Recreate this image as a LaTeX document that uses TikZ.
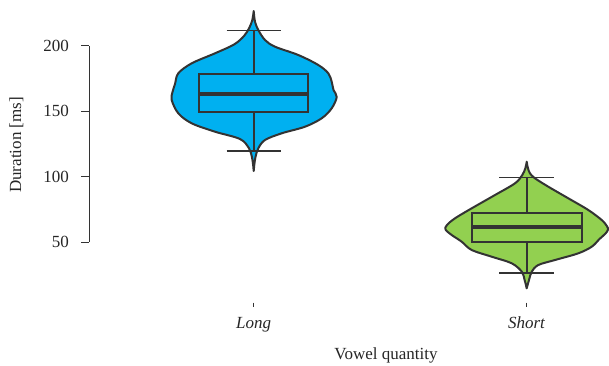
\documentclass[tikz,border=0pt]{standalone}
\usepackage{fontspec}
\setmainfont{Liberation Serif}
\definecolor{longFill}{HTML}{00B0F0}
\definecolor{shortFill}{HTML}{92D050}
\definecolor{plotLine}{HTML}{333333}

\providecommand*{\axisX}{}
\providecommand*{\yBase}{}
\providecommand*{\yScale}{}
\renewcommand*{\axisX}{89}
\renewcommand*{\yBase}{242}
\renewcommand*{\yScale}{1.3067}

\tikzset{
  violinLine/.style={draw=plotLine,line width=2pt,line join=round},
  boxLine/.style={draw=plotLine,line width=1.9pt},
  medianLine/.style={draw=plotLine,line width=3.4pt},
  whiskerLine/.style={draw=plotLine,line width=2.3pt},
  capLine/.style={draw=plotLine,line width=1.6pt},
  axisLine/.style={draw=plotLine,line width=1pt},
  plotText/.style={inner sep=0pt,font=\fontsize{17}{20}\selectfont,text=black!85}
}

\begin{document}
\begin{tikzpicture}[x=1pt,y=-1pt]
  \useasboundingbox (0,0) rectangle (609,365);
  % y axis
  \draw [axisLine] (\axisX,46) -- (\axisX,\yBase);
  \foreach \v in {50,100,...,200} {
    \pgfmathsetmacro{\py}{\yBase-(\v-50)*\yScale}
    \draw [axisLine] (81,\py) -- (\axisX,\py);
    \node [plotText,anchor=east] (tick\v) at (69,\py) {\v};
  }
  \node [plotText,rotate=90,anchor=base] (ylabel) at (21,145) {Duration [ms]};
  % x axis
  \foreach \cx/\name in {253.7/Long,526.7/Short} {
    \draw [axisLine] (\cx,302.5) -- (\cx,307);
    \node [plotText,anchor=base] (label\name) at (\cx,328) {\textit{\name}};
  }
  \node [plotText,anchor=base] (xlabel) at (386,359) {Vowel quantity};

  % long vowels
  \draw [violinLine,fill=longFill]
    plot [smooth,tension=0.55] coordinates {(253.7,11) (255,21.7) (258.3,30) (265,40)
      (275,46.7) (298.3,55) (318.3,65) (328.3,73.3) (331.7,81.7) (333.5,90)
      (336.7,97) (331.7,108.3) (321.7,118.3) (305,126.7) (281.7,133.3) (265,140)
      (258.3,148.3) (255.5,157) (254.4,164) (253.7,171)}
    -- plot [smooth,tension=0.55] coordinates {(253.7,171) (253,164) (251.9,157)
      (249,148.3) (240,139) (215,131.7) (191.7,123.3) (178.3,113.3) (171.7,100)
      (172.5,92) (175,84) (178.3,73.3) (191.7,63.3) (215,53.3) (234,44.5)
      (244,36) (249.2,28) (252.3,20) (253.7,11)} -- cycle;
  \draw [whiskerLine] (253.7,30.3) -- (253.7,151);
  \draw [boxLine,fill=longFill] (199,74) rectangle (308.3,112);
  \draw [medianLine] (199,94) -- (308.3,94);
  \draw [capLine] (226.7,30.3) -- (280.7,30.3);
  \draw [capLine] (226.7,151) -- (280.7,151);

  % short vowels
  \draw [violinLine,fill=shortFill]
    plot [smooth,tension=0.55] coordinates {(526.7,161.7) (527.9,168) (530,173.3)
      (535,178.3) (548.3,186.7) (568.3,198.3) (588.3,210) (601.7,220) (606.8,226)
      (608,229.5) (605.5,233.5) (599.5,239) (591.7,246.7) (578.3,253.3) (555,260)
      (538.3,265) (531.7,271.7) (529,280) (526.7,288.3)}
    -- plot [smooth,tension=0.55] coordinates {(526.7,288.3) (524.6,280) (521.8,271.7)
      (511.7,263.3) (491.7,256.7) (471.7,250) (461.7,241.7) (451.7,235) (445.5,229.5)
      (447,225) (455,218.3) (471.7,208.3) (495,195) (515,183.3) (522.3,175)
      (525.4,168) (526.7,161.7)} -- cycle;
  \draw [whiskerLine] (526.7,177.3) -- (526.7,272.7);
  \draw [boxLine,fill=shortFill] (471.7,212.7) rectangle (581.7,242.3);
  \draw [medianLine] (471.7,227) -- (581.7,227);
  \draw [capLine] (499.3,177.3) -- (554,177.3);
  \draw [capLine] (499.3,272.7) -- (554,272.7);
\end{tikzpicture}
\end{document}
